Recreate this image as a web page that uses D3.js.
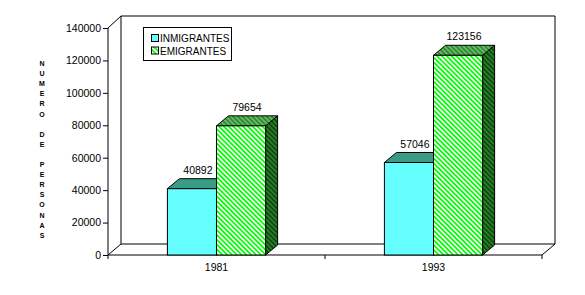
<!DOCTYPE html>
<html><head><meta charset="utf-8">
<script src="https://cdn.jsdelivr.net/npm/d3@7"></script>
<style>body{margin:0;background:#fff}svg{display:block;font-family:"Liberation Sans",Arial,sans-serif}</style>
</head><body><svg id="c" width="585" height="295"></svg>
<script>
const categories = ["1981", "1993"];
const seriesNames = ["INMIGRANTES", "EMIGRANTES"];
const inmigrantes = [40892, 57046];
const emigrantes = [79654, 123156];
const yTicks = [0, 20000, 40000, 60000, 80000, 100000, 120000, 140000];
const yTitle = "NUMERO DE PERSONAS";

const svg = d3.select("#c");
const defs = svg.append("defs");
function stripe(id, bg, fg, size) {
  const p = defs.append("pattern").attr("id", id).attr("patternUnits", "userSpaceOnUse")
    .attr("width", size).attr("height", size).attr("patternTransform", "rotate(-45)");
  p.append("rect").attr("width", size).attr("height", size).attr("fill", bg);
  p.append("rect").attr("width", size / 2).attr("height", size).attr("fill", fg);
}
stripe("pFront", "#ffffff", "#00ff00", 3.4);
stripe("pTop", "#66bb66", "#2f8a2f", 3.4);
stripe("pSide", "#2e7d2e", "#0a4a0a", 3.4);

const L = 108, R = 542, B = 255, T = 28;
const wdx = 13, wdy = -11;
const bdx = 12, bdy = -10;
const y = d3.scaleLinear().domain([0, 140000]).range([B, T]);
const x0 = d3.scaleBand().domain(categories).range([L, R]);
const x1 = d3.scaleBand().domain(seriesNames).range([0, x0.bandwidth()]).paddingOuter(1.21);

const g = svg.append("g");
// back wall
g.append("path").attr("d", `M${L + wdx},${B + wdy}V${T + wdy - 1}H${R + wdx}V${B + wdy}`)
  .attr("fill", "none").attr("stroke", "#000");
// floor
g.append("path").attr("d", `M${L},${B}L${L + wdx},${B + wdy}H${R + wdx}L${R},${B}Z`)
  .attr("fill", "#fff").attr("stroke", "#000");
// left diag at top
g.append("line").attr("x1", L).attr("y1", T).attr("x2", L + wdx).attr("y2", T + wdy - 1).attr("stroke", "#000");

// y axis
const yAxis = g.append("g").attr("transform", `translate(${L},0)`)
  .call(d3.axisLeft(y).tickValues(yTicks).tickSize(5).tickPadding(2).tickFormat(d3.format("d")));
yAxis.select(".domain").attr("d", `M0,${T}V${B}`);
yAxis.selectAll("text").attr("font-size", "10.5px").attr("font-family", "Liberation Sans, Arial, sans-serif").attr("fill", "#000");

// x axis
const xAxis = g.append("g").attr("transform", `translate(0,${B})`)
  .call(d3.axisBottom(x0).tickSize(0).tickPadding(9));
xAxis.select(".domain").remove();
xAxis.selectAll("text").attr("font-size", "10.5px").attr("font-family", "Liberation Sans, Arial, sans-serif").attr("fill", "#000");
[L, (L + R) / 2, R].forEach(v => g.append("line").attr("x1", v).attr("x2", v).attr("y1", B).attr("y2", B + 4).attr("stroke", "#000"));

// bars
const styles = {
  INMIGRANTES: { front: "#66ffff", top: "#3a9c84", side: "#2a7a66" },
  EMIGRANTES: { front: "url(#pFront)", top: "url(#pTop)", side: "url(#pSide)" }
};
categories.forEach((c, i) => {
  const vals = { INMIGRANTES: inmigrantes[i], EMIGRANTES: emigrantes[i] };
  seriesNames.forEach(s => {
    const xl = x0(c) + x1(s), w = x1.bandwidth(), yt = y(vals[s]);
    const st = styles[s];
    const bg = g.append("g");
    bg.append("path").attr("d", `M${xl + w},${B}V${yt}l${bdx},${bdy}V${B + bdy}Z`)
      .attr("fill", st.side).attr("stroke", "#000").attr("stroke-width", 1);
    bg.append("path").attr("d", `M${xl},${yt}l${bdx},${bdy}h${w}l${-bdx},${-bdy}Z`)
      .attr("fill", st.top).attr("stroke", "#000").attr("stroke-width", 1);
    bg.append("rect").attr("x", xl).attr("y", yt).attr("width", w).attr("height", B - yt)
      .attr("fill", st.front).attr("stroke", "#000").attr("stroke-width", 1);
    bg.append("text").attr("x", xl + w / 2 + bdx / 2).attr("y", yt + bdy - 5)
      .attr("text-anchor", "middle").attr("font-size", "10.5px").text(vals[s]);
  });
});

// legend
const lg = svg.append("g");
lg.append("rect").attr("x", 143.5).attr("y", 27.5).attr("width", 88).attr("height", 33)
  .attr("fill", "#fff").attr("stroke", "#000");
seriesNames.forEach((s, i) => {
  lg.append("rect").attr("x", 151.5).attr("y", 34.5 + i * 12.5).attr("width", 7).attr("height", 7)
    .attr("fill", styles[s].front).attr("stroke", "#000");
  lg.append("text").attr("x", 160).attr("y", 42 + i * 12.5).attr("font-size", "10px").text(s);
});

// y title: stacked letters
const tg = svg.append("g");
yTitle.split("").forEach((ch, i) => {
  tg.append("text").attr("x", 42).attr("y", 66 + i * 10.1).attr("text-anchor", "middle")
    .attr("font-size", "7px").attr("font-weight", "bold").text(ch);
});
</script></body></html>
